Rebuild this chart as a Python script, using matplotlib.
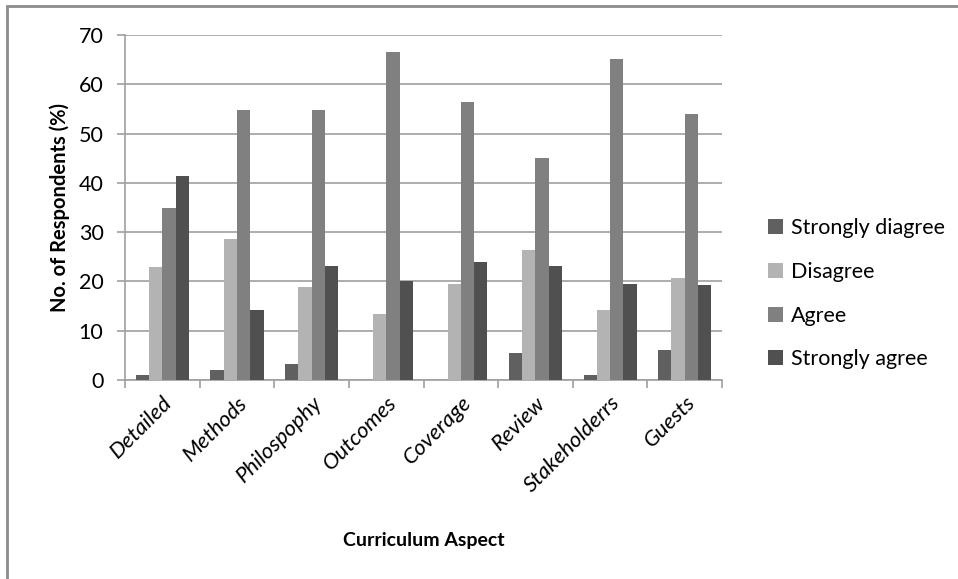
import matplotlib.pyplot as plt
import numpy as np
from matplotlib.patches import Rectangle

aspects = ['Detailed', 'Methods', 'Philospophy', 'Outcomes', 'Coverage',
           'Review', 'Stakeholderrs', 'Guests']
strongly_disagree = [1.0, 2.1, 3.2, 0.0, 0.0, 5.5, 1.1, 6.0]
disagree = [22.9, 28.6, 18.8, 13.3, 19.5, 26.3, 14.1, 20.6]
agree = [34.8, 54.8, 54.8, 66.5, 56.3, 45.0, 65.2, 54.0]
strongly_agree = [41.4, 14.3, 23.2, 20.0, 23.9, 23.1, 19.5, 19.2]

series = [
    ('Strongly diagree', strongly_disagree, '#606060'),
    ('Disagree', disagree, '#b3b3b3'),
    ('Agree', agree, '#808080'),
    ('Strongly agree', strongly_agree, '#505050'),
]

plt.rcParams['font.family'] = ['Lato', 'DejaVu Sans']

fig = plt.figure(figsize=(9.58, 5.79), dpi=100)
ax = fig.add_axes([0.1305, 0.3437, 0.6232, 0.5959])

x = np.arange(len(aspects))
w = 0.178
for i, (name, vals, col) in enumerate(series):
    ax.bar(x + (i - 1.5) * w, vals, w, color=col, label=name, zorder=3)

ax.set_xlim(-0.5, len(aspects) - 0.5)
ax.set_ylim(0, 70)
ax.set_yticks(range(0, 71, 10))
ax.yaxis.grid(True, color='#a0a0a0', linewidth=1.2, zorder=0)
ax.set_axisbelow(True)

for s in ['top', 'right']:
    ax.spines[s].set_visible(False)
for s in ['left', 'bottom']:
    ax.spines[s].set_color('#a0a0a0')
    ax.spines[s].set_linewidth(1.2)

ax.set_xticks(np.arange(-0.5, len(aspects)), minor=False)
ax.set_xticklabels([])
ax.set_xticks(x, minor=True)
ax.set_xticklabels(aspects, minor=True, rotation=45, ha='right',
                   rotation_mode='anchor', fontsize=16, style='italic')
ax.tick_params(axis='x', which='major', length=5.5, color='#a0a0a0', width=1.2)
ax.tick_params(axis='x', which='minor', length=0, pad=9)
ax.tick_params(axis='y', length=5.5, color='#a0a0a0', width=1.2,
               labelsize=15.5, pad=10)

ax.set_ylabel('No. of Respondents (%)', fontsize=14.5, fontweight='bold', labelpad=6)
ax.set_xlabel('Curriculum Aspect', fontsize=14, fontweight='bold', labelpad=26)

ax.legend(loc='center left', bbox_to_anchor=(1.045, 0.25), frameon=False,
          fontsize=15.5, labelspacing=1.1, handlelength=0.7, handleheight=0.7,
          handletextpad=0.35)

# outer chart border
fig.patches.append(Rectangle((7 / 958, -0.05), 1.0, 1.05 - 6 / 579,
                             transform=fig.transFigure, fill=False,
                             edgecolor='#8c8c8c', linewidth=2))

fig.savefig('out.png', dpi=100)
